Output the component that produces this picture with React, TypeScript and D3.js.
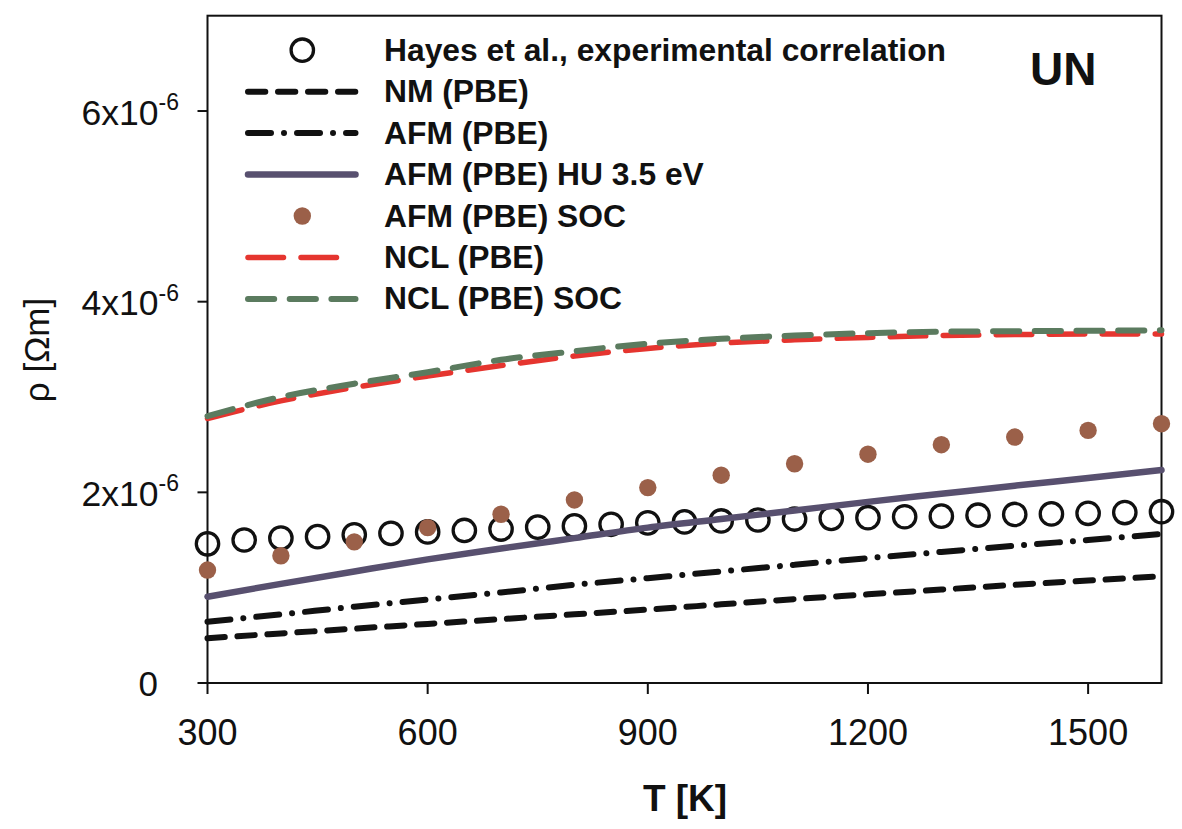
import React from 'react';
import * as d3 from 'd3';

// temperatures [K]
const tempsModel = [300, 400, 500, 600, 700, 800, 900, 1000, 1100, 1200, 1300, 1400, 1500, 1600];
const tempsHayes = [300, 350, 400, 450, 500, 550, 600, 650, 700, 750, 800, 850, 900, 950,
  1000, 1050, 1100, 1150, 1200, 1250, 1300, 1350, 1400, 1450, 1500, 1550, 1600];

// resistivity in units of 1e-6 Ohm m
const hayes = [1.46, 1.50, 1.52, 1.535, 1.555, 1.57, 1.585, 1.60, 1.615, 1.635, 1.648, 1.665, 1.68, 1.69,
  1.70, 1.71, 1.72, 1.727, 1.734, 1.744, 1.75, 1.76, 1.768, 1.774, 1.78, 1.788, 1.797];
const nmPbe = [0.47, 0.52, 0.57, 0.62, 0.67, 0.72, 0.77, 0.825, 0.88, 0.93, 0.98, 1.03, 1.075, 1.12];
const afmPbe = [0.643, 0.72, 0.80, 0.875, 0.95, 1.03, 1.10, 1.17, 1.24, 1.31, 1.375, 1.44, 1.50, 1.563];
const afmHu = [0.905, 1.04, 1.17, 1.297, 1.41, 1.52, 1.63, 1.72, 1.81, 1.90, 1.985, 2.07, 2.15, 2.234];
const afmSoc = [1.185, 1.335, 1.48, 1.63, 1.77, 1.92, 2.05, 2.18, 2.30, 2.40, 2.50, 2.58, 2.65, 2.72];
const nclPbe = [2.775, 2.96, 3.10, 3.22, 3.33, 3.43, 3.51, 3.565, 3.60, 3.625, 3.645, 3.655, 3.66, 3.66];
const nclSoc = [2.80, 3.00, 3.14, 3.26, 3.39, 3.48, 3.56, 3.61, 3.645, 3.67, 3.685, 3.69, 3.695, 3.70];

const xTicks = [300, 600, 900, 1200, 1500];
const yTicks = [0, 2, 4, 6];

const legendLabels = [
  'Hayes et al., experimental correlation',
  'NM (PBE)',
  'AFM (PBE)',
  'AFM (PBE) HU 3.5 eV',
  'AFM (PBE) SOC',
  'NCL (PBE)',
  'NCL (PBE) SOC',
];

const W = 1182;
const H = 829;
const FONT = "Arial, 'Liberation Sans', sans-serif";

const x = d3.scaleLinear().domain([300, 1600]).range([207.5, 1161.5]);
const y = d3.scaleLinear().domain([0, 7]).range([683, 15.7]);

const line = d3.line<[number, number]>()
  .x(d => x(d[0]))
  .y(d => y(d[1]))
  .curve(d3.curveMonotoneX);

const pairs = (vals: number[]) => tempsModel.map((t, i) => [t, vals[i]] as [number, number]);

interface LineStyle {
  color: string;
  width: number;
  dash?: string;
}

const styles: Record<string, LineStyle> = {
  nm: { color: '#111', width: 6, dash: '17.3,12.7' },
  afm: { color: '#111', width: 6, dash: '23,13,0.01,13' },
  hu: { color: '#58506f', width: 6.5 },
  ncl: { color: '#e5352f', width: 5.5, dash: '35.5,17.5' },
  nclSoc: { color: '#5b7b5f', width: 6, dash: '26.2,15.5' },
};

const legendKeys = ['hayes', 'nm', 'afm', 'hu', 'soc', 'ncl', 'nclSoc'];

const App: React.FC = () => {
  const series: [string, number[]][] = [
    ['nm', nmPbe],
    ['afm', afmPbe],
    ['hu', afmHu],
  ];
  const topSeries: [string, number[]][] = [
    ['ncl', nclPbe],
    ['nclSoc', nclSoc],
  ];

  const legendY0 = 60.7;
  const legendStep = 41.45;

  const drawPath = ([k, vals]: [string, number[]]) => {
    const s = styles[k];
    return (
      <path key={k} d={line(pairs(vals)) || ''} fill="none" stroke={s.color}
        strokeWidth={s.width} strokeDasharray={s.dash} strokeLinecap="round" />
    );
  };

  return (
    <div style={{ position: 'absolute', left: 0, top: 0 }}>
      <svg width={W} height={H} style={{ display: 'block', background: '#fff' }} fontFamily={FONT}>
        <rect x={0} y={0} width={W} height={H} fill="#fff" />

        {/* frame */}
        <rect x={x(300)} y={y(7)} width={x(1600) - x(300)} height={y(0) - y(7)}
          fill="none" stroke="#111" strokeWidth={2} />

        {/* y ticks */}
        {yTicks.map(v => (
          <g key={'yt' + v}>
            <line x1={x(300) - 10} x2={x(300)} y1={y(v)} y2={y(v)} stroke="#111" strokeWidth={2} />
            {v === 0 ? (
              <text x={158} y={y(v) + 12.5} textAnchor="end" fontSize={35} fill="#111">0</text>
            ) : (
              <text x={179} y={y(v) + 13.5} textAnchor="end" fontSize={35.5} fill="#111">
                {v}x10<tspan dy={-14.5} fontSize={23}>-6</tspan>
              </text>
            )}
          </g>
        ))}

        {/* x ticks */}
        {xTicks.map(t => (
          <g key={'xt' + t}>
            <line x1={x(t)} x2={x(t)} y1={y(0)} y2={y(0) + 11} stroke="#111" strokeWidth={2} />
            <text x={x(t)} y={745} textAnchor="middle" fontSize={36} fill="#111">{t}</text>
          </g>
        ))}

        {/* axis titles */}
        <text x={685} y={811} textAnchor="middle" fontSize={37} fontWeight="bold" fill="#111">T [K]</text>
        <text transform="translate(49,350) rotate(-90)" textAnchor="middle" fontSize={35} fill="#111">ρ [Ωm]</text>

        {/* Hayes circles */}
        {tempsHayes.map((t, i) => (
          <circle key={'h' + t} cx={x(t)} cy={y(hayes[i])} r={11.2}
            fill="none" stroke="#111" strokeWidth={3.3} />
        ))}

        {/* model lines */}
        {series.map(drawPath)}

        {/* AFM SOC dots */}
        {tempsModel.map((t, i) => (
          <circle key={'s' + t} cx={x(t)} cy={y(afmSoc[i])} r={8.7} fill="#9b6049" />
        ))}

        {topSeries.map(drawPath)}

        {/* legend */}
        {legendLabels.map((lab, i) => {
          const by = legendY0 + i * legendStep;
          const cy = by - 10.5;
          const k = legendKeys[i];
          let sym: React.ReactNode = null;
          if (k === 'hayes') {
            sym = <circle cx={302.3} cy={cy} r={11.2} fill="none" stroke="#111" strokeWidth={3.3} />;
          } else if (k === 'soc') {
            sym = <circle cx={302.3} cy={cy} r={8.7} fill="#9b6049" />;
          } else {
            const s = styles[k];
            const x2 = k === 'ncl' ? 337 : 355.5;
            sym = <line x1={248} x2={x2} y1={cy} y2={cy} stroke={s.color} strokeWidth={s.width}
              strokeDasharray={s.dash} strokeLinecap="round" />;
          }
          return (
            <g key={'lg' + i}>
              {sym}
              <text x={384} y={by} fontSize={31.8} fontWeight="bold" fill="#111">{lab}</text>
            </g>
          );
        })}

        <text x={1030} y={85} fontSize={46} fontWeight="bold" fill="#111">UN</text>
      </svg>
    </div>
  );
};

export default App;
